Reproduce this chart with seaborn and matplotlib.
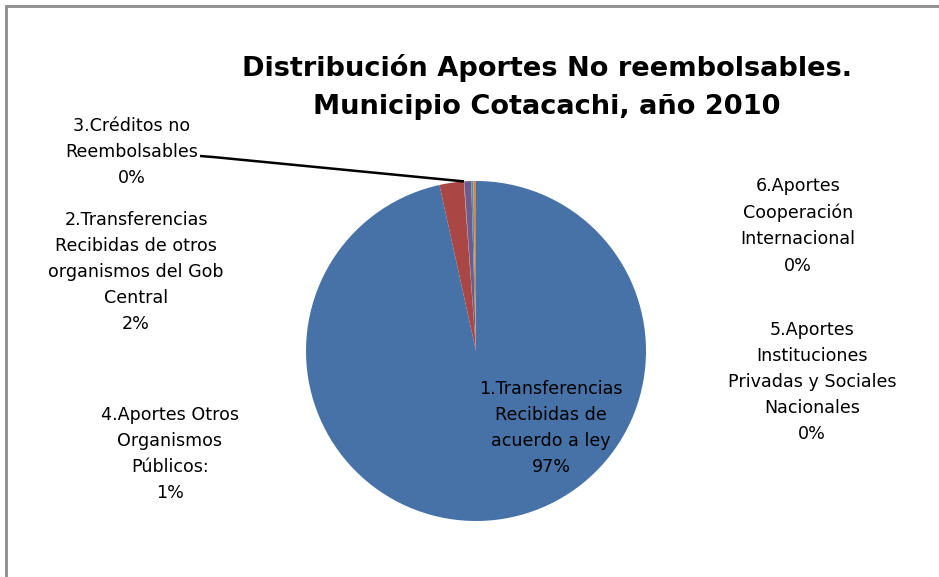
import matplotlib
matplotlib.use("Agg")
import matplotlib.pyplot as plt
import seaborn as sns
from matplotlib.patches import Rectangle
import numpy as np

categories = ["1.Transferencias\nRecibidas de\nacuerdo a ley",
              "2.Transferencias\nRecibidas de otros\norganismos del Gob\nCentral",
              "3.Créditos no\nReembolsables",
              "4.Aportes Otros\nOrganismos\nPúblicos:",
              "5.Aportes\nInstituciones\nPrivadas y Sociales\nNacionales",
              "6.Aportes\nCooperación\nInternacional"]
values = [96.55, 2.3, 0.05, 0.65, 0.2, 0.25]
pct_labels = ["97%", "2%", "0%", "1%", "0%", "0%"]
colors = ["#4672A8", "#AA4643", "#89A54E", "#71588F", "#4198AF", "#DB843D"]

sns.set_theme(style="white")
plt.rcParams['font.family'] = ['DejaVu Sans']
plt.rcParams['text.color'] = 'black'

W, H = 939, 577
fig = plt.figure(figsize=(W/100, H/100), dpi=100)
ax = fig.add_axes([0, 0, 1, 1])

cx, cy, r = 476, H - 351, 170
wedges, _ = ax.pie(values, colors=sns.color_palette(colors), startangle=90,
                   counterclock=False, center=(cx, cy), radius=r,
                   wedgeprops=dict(linewidth=0), frame=True)
ax.set_xlim(0, W)
ax.set_ylim(0, H)
ax.set_aspect('equal')
ax.axis('off')

# label positions (pixel coords, centre of text block)
label_pos = [(551, 428), (136, 272), (132, 152), (170, 454), (812, 382), (798, 226)]
for cat, pct, (lx, ly) in zip(categories, pct_labels, label_pos):
    ax.text(lx, H - ly, cat + "\n" + pct, ha='center', va='center',
            fontsize=12.6, linespacing=1.58, color='black')

# leader line for slice 3
w = wedges[2]
ang = np.deg2rad((w.theta1 + w.theta2) / 2)
px, py = cx + r * np.cos(ang), cy + r * np.sin(ang)
ax.plot([200, 213, px], [H - 156, H - 157, py], color='black', lw=1.8,
        solid_capstyle='butt')

ax.text(547, H - 87, "Distribución Aportes No reembolsables.\nMunicipio Cotacachi, año 2010",
        ha='center', va='center', fontsize=19.6, fontweight='bold', linespacing=1.55,
        color='black')

fig.patches.append(Rectangle((5.5/W, -0.1), 1.2, (H - 5.5)/H + 0.1, transform=fig.transFigure,
                             fill=False, edgecolor='#8c8c8c', lw=2))

fig.savefig("out.png", dpi=100)
